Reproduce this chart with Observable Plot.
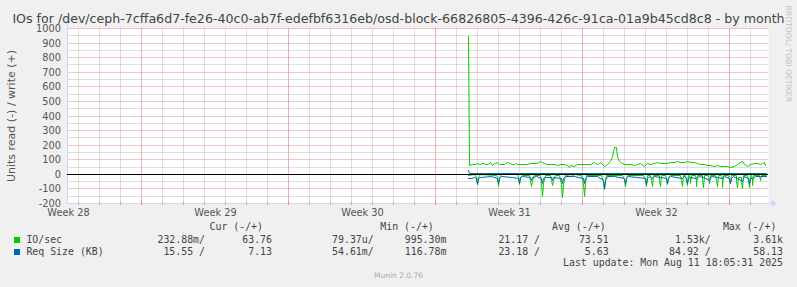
<!DOCTYPE html>
<html><head><meta charset="utf-8">
<script src="https://cdn.jsdelivr.net/npm/d3@7"></script>
<script src="https://cdn.jsdelivr.net/npm/@observablehq/plot@0.6"></script>
<style>
body{margin:0;background:#F0F0F0;}
#wrap{position:relative;width:797px;height:287px;background:#F0F0F0;overflow:hidden;}
#wrap svg{position:absolute;left:0;top:0;}
.t{position:absolute;white-space:pre;color:#444;}
.mono{font-family:"DejaVu Sans Mono",monospace;font-size:9.9px;line-height:12px;}
</style></head><body><div id="wrap"></div>
<script>
// ---- text ----
const title = "IOs for /dev/ceph-7cffa6d7-fe26-40c0-ab7f-edefbf6316eb/osd-block-66826805-4396-426c-91ca-01a9b45cd8c8 - by month";
const yLabel = "Units read (-) / write (+)";
const watermark = "RRDTOOL/ TOBI OETIKER";
const footer = "Munin 2.0.76";
const lastUpdate = "Last update: Mon Aug 11 18:05:31 2025";

// ---- axes (x in days from the left edge of the graph) ----
const xDomain = [0, 33.38];
const yDomain = [-200, 1000];
const yMajor = [-200, -100, 0, 100, 200, 300, 400, 500, 600, 700, 800, 900, 1000];
const yMinor = [-150, -50, 50, 150, 250, 350, 450, 550, 650, 750, 850, 950];
const dayLines = [0.52,1.52,2.52,3.52,4.52,5.52,6.52,7.52,8.52,9.52,10.52,11.52,12.52,13.52,14.52,15.52,16.52,17.52,18.52,19.52,20.52,21.52,22.52,23.52,24.52,25.52,26.52,27.52,28.52,29.52,30.52,31.52,32.52];
const weekLines = [3.52, 10.52, 17.52, 24.52, 31.52];
const weekTicks = [0.03, 7.03, 14.03, 21.03, 28.03];
const weekLabels = ["Week 28", "Week 29", "Week 30", "Week 31", "Week 32"];

// ---- series: IO/sec write (+) ----
const writeDays = [19.11,19.13,19.28,19.36,19.44,19.52,19.60,19.68,19.76,19.84,19.92,20.00,20.08,20.16,20.24,20.32,20.39,20.47,20.55,20.63,
20.79,20.87,20.95,21.03,21.11,21.19,21.27,21.35,21.43,
21.59,21.74,21.90,22.06,22.22,22.38,22.54,22.62,22.70,
22.86,23.01,23.17,23.33,23.49,23.65,23.81,23.89,23.97,
24.13,24.28,24.44,24.60,24.76,24.92,25.08,25.16,25.24,25.32,25.40,
25.55,25.71,25.87,25.97,26.03,26.13,26.19,26.27,26.35,
26.51,26.66,26.82,26.98,27.14,27.30,27.46,27.62,27.78,27.93,28.09,28.25,28.41,28.57,28.73,28.89,29.05,29.20,29.36,29.52,29.68,29.84,30.00,30.16,30.32,30.47,30.63,30.79,30.95,31.11,31.27,31.43,31.59,31.74,31.90,32.06,
32.14,32.22,32.38,32.54,32.70,32.86,33.01,33.09,33.17,33.25];
const writeIO = [946,62,66,66,70,73,68,69,73,73,68,66,73,78,64,73,75,82,69,70,
69,73,78,72,73,70,69,72,70,
68,70,68,72,73,75,87,78,73,
69,70,69,59,66,69,62,50,62,
57,65,66,69,66,70,78,72,69,74,78,
57,69,85,119,187,187,119,90,78,
69,70,66,64,68,73,57,73,70,73,78,75,73,76,78,82,91,78,80,85,80,78,74,68,66,62,60,57,59,57,57,57,50,57,68,78,
85,70,57,68,73,73,68,75,78,60];

// ---- series: IO/sec read (-) ----
const readDays = [19.11,19.40,19.47,19.52,19.57,19.65, 20.42,20.49,20.54,20.59,20.67, 21.42,21.49,21.54,21.59,21.67,
22.00,22.06,22.10,22.14,22.22, 22.50,22.57,22.62,22.67,22.75, 23.00,23.06,23.10,23.14,23.22, 23.45,23.52,23.57,23.62,23.70,
23.98,24.05,24.12, 24.48,24.55,24.60,24.65,24.73, 25.43,25.50,25.55,25.60,25.68, 26.43,26.50,26.55,26.60,26.68,
27.45,27.52,27.57,27.62, 27.78,27.82,27.86,27.91, 28.17,28.21,28.25,28.30, 28.48,28.53,28.57,28.62,28.72,
29.20,29.25,29.29,29.34, 29.45,29.49,29.52,29.57, 29.62,29.65,29.68,29.73, 29.90,29.94,29.97,30.02,
30.22,30.26,30.29,30.34, 30.50,30.55,30.60, 30.88,30.92,30.95,31.00, 31.14,31.17,31.19,31.24,
31.48,31.52,31.55,31.60, 31.84,31.87,31.90,31.95, 32.08,32.11,32.14,32.19, 32.40,32.43,32.46,32.51,
32.58,32.60,32.62,32.67, 32.96,33.01,33.06,33.30];
const readIO = [8,4,20,71,20,4, 5,25,80,25,4, 4,25,71,25,5,
5,40,82,40,5, 5,60,155,60,5, 5,40,75,40,5, 5,70,157,70,5,
3,18,3, 5,60,152,60,5, 5,50,104,50,5, 5,35,80,35,5,
5,40,82,10, 5,40,82,10, 5,40,80,10, 5,35,71,20,5,
5,40,82,10, 10,40,76,10, 10,30,64,10, 5,40,82,10,
5,40,87,10, 8,64,8, 5,40,82,10, 8,45,87,10,
8,35,64,10, 5,50,87,20, 20,50,98,10, 8,45,87,10,
10,35,76,10, 5,41,5,5];

// ---- series: Req Size (KB) read (-) ----
const sizeReadDays = [19.11,19.25,19.40,19.47,19.52,19.57,19.66, 20.20,20.49,20.54,20.59,20.68, 21.20,21.49,21.54,21.59,21.68,
22.06,22.10,22.14,22.35, 22.57,22.62,22.67,22.75, 23.06,23.10,23.14, 23.52,23.57,23.62,23.72,
24.15,24.55,24.60,24.65,24.75, 25.25,25.50,25.55,25.60,25.70, 26.05,26.50,26.55,26.60,26.70,
27.15,27.52,27.57,27.62,27.72, 27.86,27.95, 28.25,28.53,28.57,28.62,28.72, 29.29,29.38,
29.49,29.52,29.57,29.68, 29.97,30.10, 30.29,30.55,30.65, 30.95,31.19,31.30, 31.52,31.55,31.60,31.72,
31.90,32.14,32.25, 32.43,32.46,32.51,32.62,32.75, 33.00,33.30];
const sizeRead = [30,28,22,30,71,30,20, 18,30,64,30,18, 20,30,64,25,18,
25,41,22,18, 30,64,30,20, 25,41,22, 30,64,30,18,
16,30,64,30,18, 16,40,95,40,18, 18,30,64,30,18,
20,30,71,30,18, 30,18, 20,30,64,30,18, 30,18,
30,64,30,25, 30,18, 25,45,18, 25,28,18, 30,64,30,18,
30,50,18, 30,64,30,30,16, 14,14];

// ---- series: Req Size (KB) write (+) ----
const sizeWriteDays = [19.11,19.15,19.80,20.60,21.50,22.40,23.30,24.20,25.10,26.00,27.00,28.00,29.00,30.00,31.00,32.00,33.30];
const sizeWrite = [23,8,7,6,7,6,7,6,7,6,7,6,7,6,7,6,7];

// ---- legend ----
const seriesNames = ["IO/sec", "Req Size (KB)"];
const seriesColors = ["#00CC00", "#0066B3"];
const legendHeaders = ["Cur (-/+)", "Min (-/+)", "Avg (-/+)", "Max (-/+)"];
const legendValues = [
  ["232.88m/", "63.76", "79.37u/", "995.30m", "21.17 /", "73.51", "1.53k/", "3.61k"],
  ["15.55 /", "7.13", "54.61m/", "116.78m", "23.18 /", "5.63", "84.92 /", "58.13"]
];

const toRows = (days, vals) => days.map((d, i) => ({d, v: vals[i]}));

const grid = "#bdbdbd", mgrid = "#e88e8e", axisCol = "#CFD6F8";
const dots = {strokeDasharray: "1,1", strokeDashoffset: 0.5};

const chart = Plot.plot({
  width: 797, height: 287,
  marginLeft: 67, marginRight: 29, marginTop: 28, marginBottom: 84,
  style: {background: "transparent", fontFamily: "DejaVu Sans", fontSize: "9.8px", color: "#555", overflow: "visible"},
  x: {domain: xDomain, axis: null, round: true},
  y: {domain: yDomain, axis: null, round: true},
  marks: [
    Plot.frame({fill: "#FFFFFF", stroke: null}),
    Plot.ruleY(yMinor, {stroke: grid, ...dots}),
    Plot.ruleX(dayLines, {stroke: grid, ...dots}),
    Plot.ruleY(yMajor, {stroke: mgrid, ...dots}),
    Plot.ruleX(weekLines, {stroke: mgrid, ...dots}),
    // axis lines + arrows
    Plot.ruleY([-200], {x1: 0, x2: 33.6, stroke: axisCol}),
    Plot.ruleX([0], {y1: -200, y2: 1050, stroke: axisCol}),
    Plot.dot([0], {x: 33.6, y: -200, symbol: "triangle", r: 2.6, fill: axisCol, stroke: null, rotate: 90}),
    Plot.dot([0], {x: 0, y: 1050, symbol: "triangle", r: 2.6, fill: axisCol, stroke: null}),
    Plot.ruleX(dayLines, {y1: -212, y2: -188, stroke: "#bbbbbb"}),
    Plot.ruleX(weekLines, {y1: -212, y2: -188, stroke: "#ee8888"}),
    // data
    Plot.line(toRows(writeDays, writeIO), {x: "d", y: "v", stroke: seriesColors[0], strokeWidth: 1}),
    Plot.line(toRows(readDays, readIO), {x: "d", y: r => -r.v, stroke: seriesColors[0], strokeWidth: 1}),
    Plot.line(toRows(sizeReadDays, sizeRead), {x: "d", y: r => -r.v, stroke: seriesColors[1], strokeWidth: 1}),
    Plot.line(toRows(sizeWriteDays, sizeWrite), {x: "d", y: "v", stroke: seriesColors[1], strokeWidth: 1}),
    Plot.ruleY([0], {stroke: "#000000", strokeWidth: 1}),
    // tick labels
    Plot.axisY({ticks: yMajor, tickSize: 0, tickPadding: 6.5, tickFormat: d => String(d), label: null, fill: "#555"}),
    Plot.axisX({ticks: weekTicks, tickSize: 0, tickPadding: 6, tickFormat: d => weekLabels[weekTicks.indexOf(d)], label: null, fill: "#555"}),
    // texts
    Plot.text([yLabel], {text: d => d, frameAnchor: "left", dx: -56.5, rotate: -90, textAnchor: "middle", lineAnchor: "middle", fontSize: 11, fill: "#555"}),
    Plot.text([title], {text: d => d, frameAnchor: "top", dx: -19.5, dy: -9.5, lineAnchor: "middle", textAnchor: "middle", fontSize: 12.6, fill: "#444"}),
    Plot.text([watermark], {text: d => d, frameAnchor: "top-right", dx: 19.7, dy: -23, rotate: 90, textAnchor: "start", lineAnchor: "middle", fontSize: 7.7, fill: "#c4c4c4"})
  ]
});

const wrap = document.getElementById("wrap");
wrap.appendChild(chart);

function addText(txt, cls, css) {
  const el = document.createElement("div");
  el.className = "t " + cls;
  el.textContent = txt;
  Object.assign(el.style, css);
  wrap.appendChild(el);
  return el;
}
// legend layout
const headerLeft = [209.5, 380.3, 552.1, 722.9];
const valueRight = [205, 272, 373.7, 446.4, 540, 608.6, 710.7, 783];
const rowCenter = [240, 252.4];
legendHeaders.forEach((h, i) => addText(h, "mono", {left: headerLeft[i] + "px", top: (227.3 - 6) + "px"}));
seriesNames.forEach((name, r) => {
  const sq = document.createElement("div");
  Object.assign(sq.style, {position: "absolute", left: "14px", top: (rowCenter[r] - 3) + "px", width: "6px", height: "6px", background: seriesColors[r]});
  wrap.appendChild(sq);
  addText(name, "mono", {left: "26.4px", top: (rowCenter[r] - 6) + "px"});
  legendValues[r].forEach((v, c) => addText(v, "mono", {right: (797 - valueRight[c]) + "px", top: (rowCenter[r] - 6) + "px", textAlign: "right"}));
});
addText(lastUpdate, "mono", {right: (797 - 783) + "px", top: (263.3 - 6) + "px"});
addText(footer, "", {left: "0px", width: "797px", textAlign: "center", top: (276.3 - 5) + "px", fontFamily: "DejaVu Sans", fontSize: "7.5px", lineHeight: "10px", color: "#aaaaaa"});
</script>
</body></html>
